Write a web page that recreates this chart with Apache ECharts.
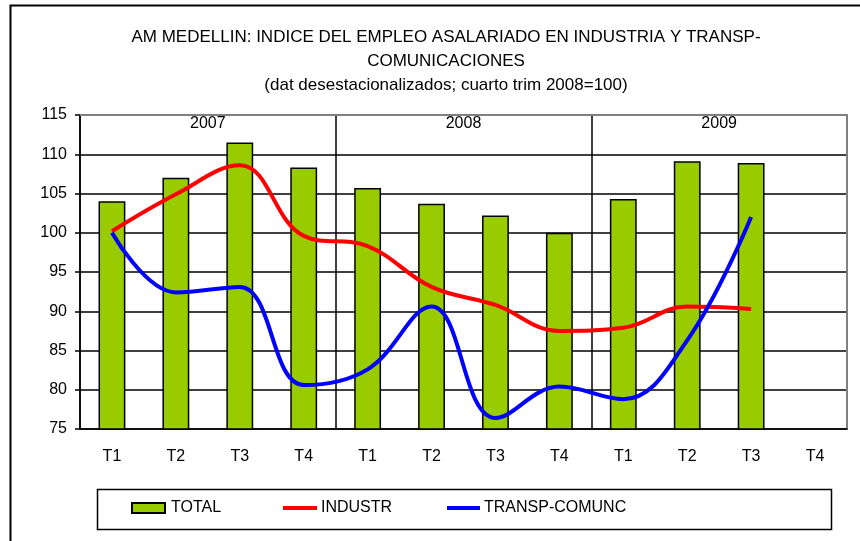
<!DOCTYPE html>
<html>
<head>
<meta charset="utf-8">
<script src="https://cdn.jsdelivr.net/npm/echarts@6/dist/echarts.min.js"></script>
<style>
  html, body { margin: 0; padding: 0; background: #fff; }
  #chart { width: 860px; height: 541px; }
</style>
</head>
<body>
<div id="chart"></div>
<script>
// quarters and years
const quarters = ['T1', 'T2', 'T3', 'T4', 'T1', 'T2', 'T3', 'T4', 'T1', 'T2', 'T3', 'T4']
const years = ['2007', '2008', '2009']
// series values
const total = [104.0, 107.0, 111.5, 108.3, 105.7, 103.7, 102.2, 100.0, 104.3, 109.1, 108.9, '-']
const industr = [100.2, 104.9, 108.6, 99.6, 98.3, 93.1, 90.8, 87.5, 87.9, 90.6, 90.3, '-']
const transp = [100.0, 92.4, 93.1, 80.6, 82.6, 90.6, 76.4, 80.4, 78.8, 86.3, 102.0, '-']
const yTicks = { min: 75, max: 115, interval: 5 }

const font = "'Liberation Sans', Arial, sans-serif"
const everyYear = (index) => index % 4 === 0

const chart = echarts.init(document.getElementById('chart'))
chart.setOption({
    animation: false,
    title: {
        text: 'AM MEDELLIN: INDICE DEL EMPLEO ASALARIADO EN INDUSTRIA Y TRANSP-\nCOMUNICACIONES\n(dat desestacionalizados; cuarto trim 2008=100)',
        left: 441,
        textAlign: 'center',
        top: 20,
        textStyle: { fontFamily: font, fontSize: 17, fontWeight: 'normal', color: '#000', lineHeight: 24 }
    },
    grid: { left: 80, right: 13, top: 115, bottom: 112 },
    legend: [
        {
            data: [{ name: 'TOTAL', icon: 'rect' }], left: 131, top: 500, padding: 0, itemWidth: 33, itemHeight: 10,
            textStyle: { fontFamily: font, fontSize: 16, color: '#000', padding: [0, 0, 0, 1] }
        },
        {
            data: [{ name: 'INDUSTR', icon: 'rect' }], left: 283, top: 500, padding: 0, itemWidth: 34, itemHeight: 4,
            textStyle: { fontFamily: font, fontSize: 16, color: '#000', padding: [0, 0, 0, -1] }
        },
        {
            data: [{ name: 'TRANSP-COMUNC', icon: 'rect' }], left: 447, top: 500, padding: 0, itemWidth: 33, itemHeight: 4,
            textStyle: { fontFamily: font, fontSize: 16, color: '#000', padding: [0, 0, 0, -1] }
        }
    ],
    graphic: [
        // outer frame of the chart
        { type: 'rect', left: 8, top: 3, shape: { width: 900, height: 600 }, style: { fill: 'none', stroke: '#000', lineWidth: 2 }, silent: true },
        // legend box
        { type: 'rect', left: 95, top: 487, shape: { width: 734, height: 40 }, style: { fill: 'none', stroke: '#000', lineWidth: 1.5 }, silent: true }
    ],
    xAxis: [
        {
            type: 'category',
            data: quarters,
            axisLine: { lineStyle: { color: '#000', width: 1.5 } },
            axisTick: { interval: everyYear, length: 6, lineStyle: { color: '#000', width: 1.5 } },
            axisLabel: { interval: 0, margin: 20, fontFamily: font, fontSize: 16, color: '#000' },
            splitLine: { show: false }
        },
        {
            type: 'category',
            position: 'top',
            data: years,
            axisLine: { show: true, lineStyle: { color: '#808080', width: 2 } },
            axisTick: { show: false },
            axisLabel: { inside: true, margin: 1, fontFamily: font, fontSize: 16, color: '#000' },
            splitLine: { show: true, interval: 0, lineStyle: { color: '#000', width: 1.5 } }
        }
    ],
    yAxis: [
        {
            type: 'value',
            min: yTicks.min, max: yTicks.max, interval: yTicks.interval,
            axisLine: { show: true, lineStyle: { color: '#000', width: 1.5 } },
            axisTick: { show: true, length: 5, lineStyle: { color: '#000', width: 1.5 } },
            axisLabel: { margin: 13, fontFamily: font, fontSize: 16, color: '#000' },
            splitLine: { show: true, lineStyle: { color: '#000', width: 1.5 } }
        },
        {
            type: 'value',
            position: 'right',
            min: yTicks.min, max: yTicks.max, interval: yTicks.interval,
            axisLine: { show: true, lineStyle: { color: '#808080', width: 2 } },
            axisTick: { show: false },
            axisLabel: { show: false },
            splitLine: { show: false }
        }
    ],
    series: [
        {
            name: 'TOTAL',
            type: 'bar',
            barWidth: '42%',
            data: total,
            itemStyle: { color: '#99CC00', borderColor: '#000', borderWidth: 1.5 }
        },
        {
            name: 'INDUSTR',
            type: 'line',
            data: industr,
            smooth: 0.4,
            symbol: 'none',
            lineStyle: { color: '#FF0000', width: 4 },
            itemStyle: { color: '#FF0000' }
        },
        {
            name: 'TRANSP-COMUNC',
            type: 'line',
            data: transp,
            smooth: 0.4,
            symbol: 'none',
            lineStyle: { color: '#0000FF', width: 4 },
            itemStyle: { color: '#0000FF' }
        }
    ]
})
</script>
</body>
</html>
